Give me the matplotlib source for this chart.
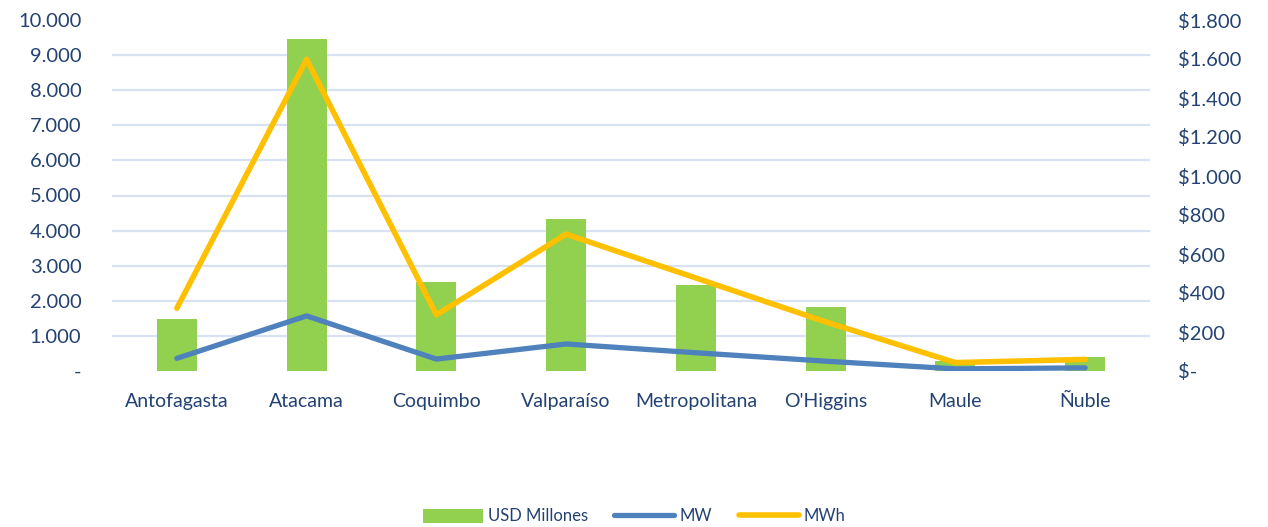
import matplotlib
matplotlib.use("Agg")
import matplotlib.pyplot as plt
from matplotlib.ticker import FuncFormatter, MultipleLocator
from matplotlib.lines import Line2D
from matplotlib.patches import Patch
import numpy as np

plt.rcParams['font.family'] = ['Lato', 'DejaVu Sans']

regions = ["Antofagasta", "Atacama", "Coquimbo", "Valparaíso", "Metropolitana",
           "O'Higgins", "Maule", "Ñuble"]
usd_millones = [267, 1703, 456, 778, 440, 330, 53, 70]
mw = [360, 1570, 340, 770, 520, 280, 60, 90]
mwh = [1790, 8880, 1600, 3900, 2650, 1400, 240, 330]

GREEN = "#92D050"
BLUE = "#4F81BD"
YELLOW = "#FFC000"
TXT = "#234272"
GRID = "#D9E2F3"

fig = plt.figure(figsize=(12.68, 5.27), dpi=100)
ax1 = fig.add_axes([112/1268, 1-371/527, (1150-112)/1268, (371-20)/527])
ax2 = ax1.twinx()

x = np.arange(len(regions))

# bars on right axis (USD)
ax2.bar(x, usd_millones, width=0.31, color=GREEN, zorder=2)
ax2.set_ylim(0, 1800)
ax2.yaxis.set_major_locator(MultipleLocator(200))
ax2.yaxis.set_minor_locator(MultipleLocator(180))
ax2.grid(which='minor', axis='y', color=GRID, linewidth=1.6, zorder=0)
ax2.set_axisbelow(True)
ax2.tick_params(axis='y', which='minor', length=0)
ax2.tick_params(axis='y', which='major', length=0, pad=20, labelsize=14.5, labelcolor=TXT)
ax2.yaxis.set_major_formatter(FuncFormatter(
    lambda v, p: "$-" if v == 0 else "$" + f"{int(v):,}".replace(",", ".")))

# lines on left axis
ax1.set_zorder(ax2.get_zorder() + 1)
ax1.patch.set_visible(False)
ax1.plot(x, mwh, color=YELLOW, linewidth=4.0, solid_capstyle='round', solid_joinstyle='round')
ax1.plot(x, mw, color=BLUE, linewidth=3.8, solid_capstyle='round', solid_joinstyle='round')
ax1.set_ylim(0, 10000)
ax1.set_xlim(-0.5, len(regions) - 0.5)
ax1.yaxis.set_major_locator(MultipleLocator(1000))
ax1.yaxis.set_major_formatter(FuncFormatter(
    lambda v, p: "-" if v == 0 else f"{int(v):,}".replace(",", ".")))
ax1.tick_params(axis='y', length=0, pad=22, labelsize=14.5, labelcolor=TXT)
ax1.set_xticks(x)
ax1.set_xticklabels(regions)
ax1.tick_params(axis='x', length=0, pad=16, labelsize=14, labelcolor=TXT)

for ax in (ax1, ax2):
    for s in ax.spines.values():
        s.set_visible(False)

handles = [Patch(facecolor=GREEN, edgecolor='none'),
           Line2D([], [], color=BLUE, linewidth=3.8, solid_capstyle='round'),
           Line2D([], [], color=YELLOW, linewidth=4.0, solid_capstyle='round')]
fig.legend(handles, ["USD Millones", "MW", "MWh"], loc='center', bbox_to_anchor=(0.5, 0.02),
           ncol=3, frameon=False, fontsize=12, labelcolor=TXT, handlelength=3.6,
           handletextpad=0.3, columnspacing=1.6, handleheight=0.9)

fig.savefig("out.png", dpi=100)
